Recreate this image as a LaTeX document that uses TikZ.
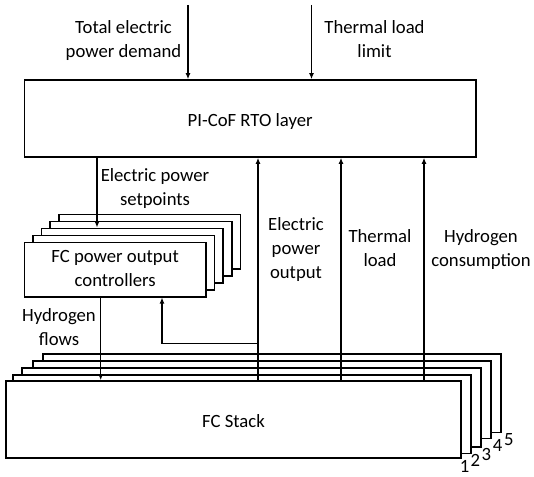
\documentclass[tikz,border=0pt]{standalone}
\usepackage{fontspec}
\setmainfont{Carlito}
\usetikzlibrary{arrows.meta}
\newcommand{\mlines}[1]{\begin{tabular}[t]{@{}c@{}}#1\end{tabular}}
\begin{document}
\begin{tikzpicture}[x=1pt,y=-1pt,
  font=\fontsize{18.7}{24}\selectfont,
  frame/.style={draw, line width=1.6pt, fill=white, inner sep=0pt},
  oneline/.style={text height=16pt, text depth=0pt},
  arr/.style={line width=1.5pt, -{Latex[length=6pt,width=5pt]}},
  lbl/.style={anchor=base, inner sep=0pt}]
\useasboundingbox (0,0) rectangle (534,476);

% RTO layer
\node[frame, oneline, minimum width=451.3pt, minimum height=77pt] (rto) at (250.15,118.5) {PI-CoF RTO layer};

% controller stack (back to front)
\node[frame, minimum width=181.7pt, minimum height=54.4pt] (cb5) at (149.55,241.5) {};
\node[frame, minimum width=181.7pt, minimum height=54.4pt] (cb4) at (140.95,248.5) {};
\node[frame, minimum width=181.7pt, minimum height=54.4pt] (cb3) at (132.35,255.5) {};
\node[frame, minimum width=181.7pt, minimum height=54.4pt] (cb2) at (123.75,262.5) {};
\node[frame, minimum width=181.7pt, minimum height=54.4pt] (ctrl) at (115.15,269.5)
  {\begin{tabular}{@{}c@{}}FC power output\\controllers\end{tabular}};

% FC stack (back to front)
\node[frame, minimum width=458pt, minimum height=78.3pt] (fc5) at (272,393.15) {};
\node[frame, minimum width=458pt, minimum height=77.6pt] (fc4) at (262,399.5) {};
\node[frame, minimum width=459pt, minimum height=79pt] (fc3) at (251.5,407.2) {};
\node[frame, minimum width=458.3pt, minimum height=78.6pt] (fc2) at (241.85,414) {};
\node[frame, oneline, minimum width=455pt, minimum height=77pt] (fc1) at (233.5,419.5) {FC Stack};

% stack numbers
\node[lbl] (n1) at (464.5,472.7) {1};
\node[lbl] (n2) at (475.3,466) {2};
\node[lbl] (n3) at (486.3,460) {3};
\node[lbl] (n4) at (497.5,451) {4};
\node[lbl] (n5) at (508.8,445) {5};

% coordinates
\coordinate (in1) at (188,5);
\coordinate (in2) at (311.5,5);
\coordinate (xs) at (97,0);
\coordinate (xq) at (100.7,0);
\coordinate (xe) at (258,0);
\coordinate (xt) at (341,0);
\coordinate (xh) at (424,0);
\coordinate (fb) at (162,343.3);

% inputs
\draw[arr] (in1) -- (in1 |- rto.north);
\draw[arr] (in2) -- (in2 |- rto.north);

% setpoints
\draw[arr] (xs |- rto.south) -- (xs |- cb3.north);

% hydrogen flows
\draw[arr] (xq |- ctrl.south) -- (xq |- fc1.north);

% measurements
\draw[arr] (xe |- fc1.north) -- (xe |- rto.south);
\draw[arr] (xt |- fc1.north) -- (xt |- rto.south);
\draw[arr] (xh |- fc1.north) -- (xh |- rto.south);

% feedback to controllers
\draw[arr] (xe |- fb) -- (fb) -- (fb |- ctrl.south);

% labels
\node[lbl] (ltot) at (123.5,34) {\mlines{Total electric\\power demand}};
\node[lbl] (lthl) at (374.5,34) {\mlines{Thermal load\\limit}};
\node[lbl] (lset) at (155,181.7) {\mlines{Electric power\\setpoints}};
\node[lbl] (lepo) at (296,230) {\mlines{Electric\\power\\output}};
\node[lbl] (ltld) at (380,242.5) {\mlines{Thermal\\load}};
\node[lbl] (lhyc) at (481,242.5) {\mlines{Hydrogen\\consumption}};
\node[lbl] (lhyf) at (59,321.7) {\mlines{Hydrogen\\flows}};
\end{tikzpicture}
\end{document}
